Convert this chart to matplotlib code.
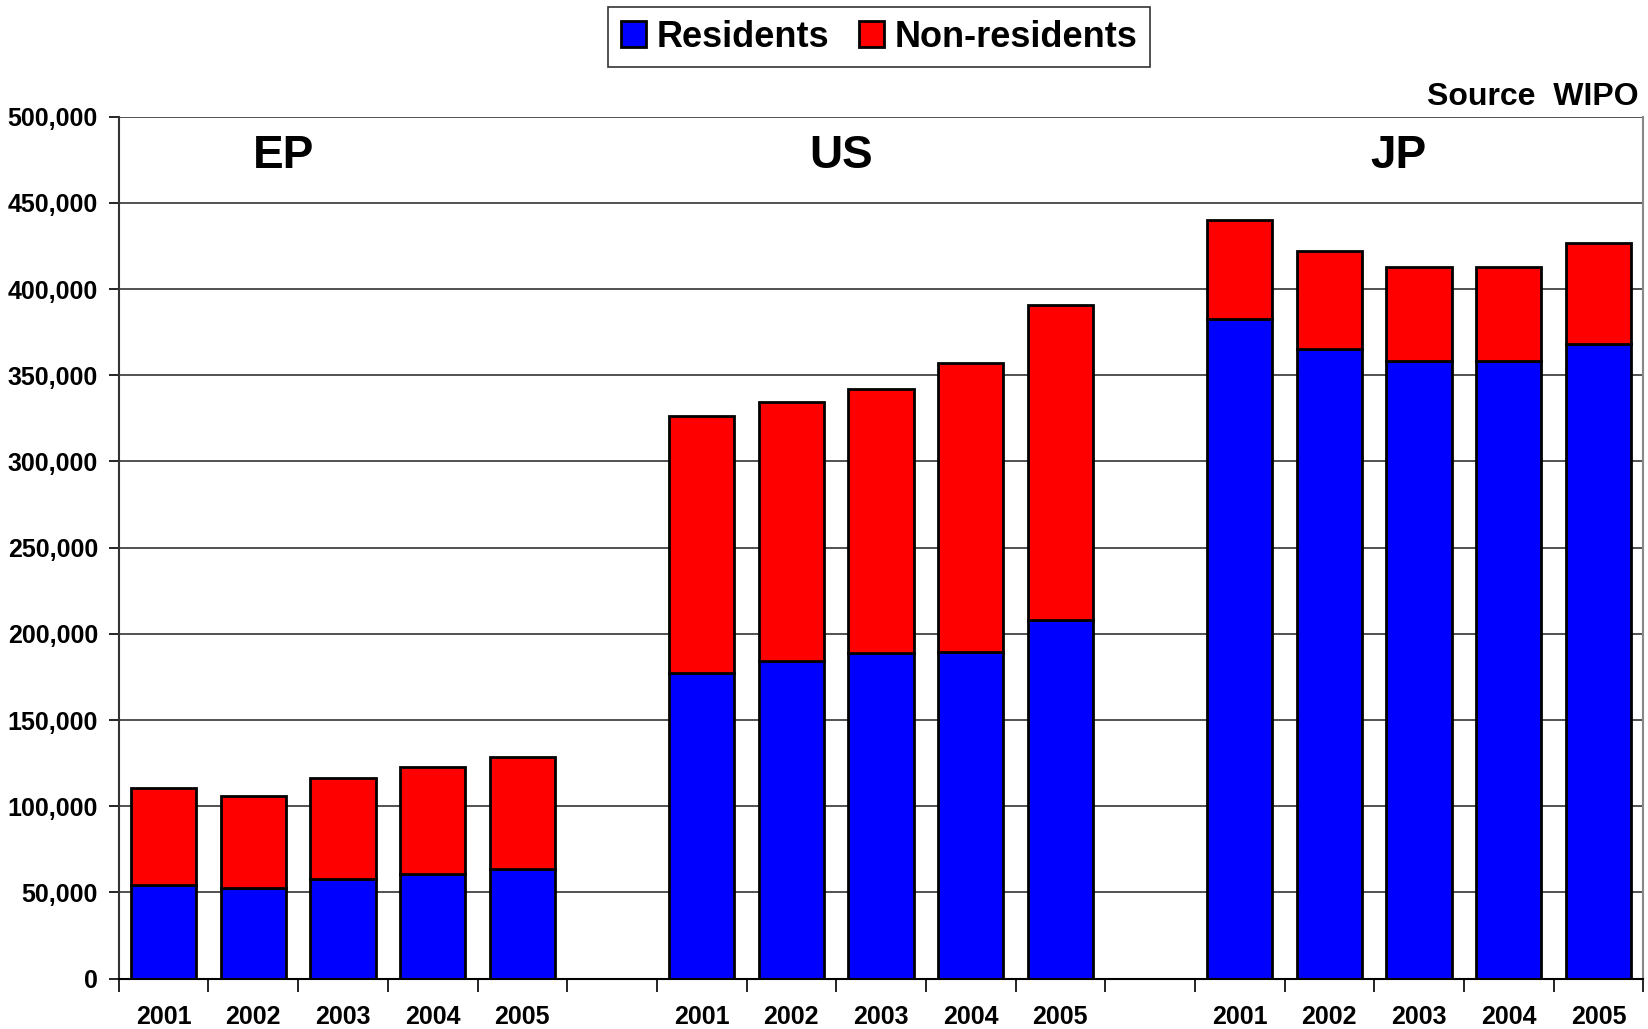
import numpy as np
import matplotlib.pyplot as plt

plt.rcParams['font.family'] = ['Liberation Sans', 'DejaVu Sans']
plt.rcParams['font.weight'] = 'bold'

# Data (Source WIPO)
offices = ["EP", "US", "JP"]
years = ["2001", "2002", "2003", "2004", "2005"]
residents = {
    "EP": [54000, 52500, 58000, 60500, 63500],
    "US": [177500, 184200, 188600, 189700, 207900],
    "JP": [382800, 365000, 358000, 358000, 367900],
}
totals = {
    "EP": [110400, 105800, 116600, 122800, 128800],
    "US": [326300, 334200, 342200, 356900, 390700],
    "JP": [440300, 421800, 413000, 413000, 427000],
}

# Build one row of 17 slots: 5 bars, gap, 5 bars, gap, 5 bars
pos, res, nonres, labels = [], [], [], []
slot = 0
for k, off in enumerate(offices):
    for j, yr in enumerate(years):
        pos.append(slot)
        res.append(residents[off][j])
        nonres.append(totals[off][j] - residents[off][j])
        labels.append(yr)
        slot += 1
    slot += 1
pos = np.array(pos)

fig = plt.figure(figsize=(16.48, 10.29), dpi=100)
ax = fig.add_axes([0.0721, 0.049, 0.925, 0.8376])

ax.set_axisbelow(True)
ax.yaxis.grid(True, color='#222222', linewidth=1.1)

w = 0.73
b1 = ax.bar(pos, res, width=w, color='#0000ff', edgecolor='black', linewidth=2, label='Residents')
b2 = ax.bar(pos, nonres, width=w, bottom=res, color='#ff0000', edgecolor='black', linewidth=2,
            label='Non-residents')

ax.set_xlim(-0.5, 16.5)
ax.set_ylim(0, 500000)
ax.set_yticks(np.arange(0, 500001, 50000))
ax.set_yticklabels([f"{v:,}" for v in range(0, 500001, 50000)], fontsize=18, fontweight='bold')

ax.set_xticks(pos)
ax.set_xticklabels(labels, fontsize=18, fontweight='bold')
ax.set_xticks(np.arange(-0.5, 17, 1), minor=True)
ax.tick_params(axis='x', which='major', length=0, pad=19)
ax.tick_params(axis='x', which='minor', length=9, width=1.2, direction='out')
ax.tick_params(axis='y', length=7, width=1.2, pad=8)

ax.spines['top'].set_visible(False)
ax.spines['right'].set_color('#888888')
ax.spines['right'].set_linewidth(1.5)
ax.spines['left'].set_color('#333333')
ax.spines['left'].set_linewidth(1.5)
ax.spines['bottom'].set_linewidth(1.5)

# office titles
for name, xpos in zip(offices, [1.34, 7.55, 13.77]):
    ax.text(xpos, 477000, name, fontsize=33, fontweight='bold', ha='center', va='center')

fig.text(0.9945, 0.906, "Source  WIPO", fontsize=23, fontweight='bold', ha='right', va='center')

leg = fig.legend(handles=[b1, b2], loc='center', bbox_to_anchor=(0.5335, 0.964), ncol=2,
                 frameon=True, fancybox=False, edgecolor='black',
                 handlelength=0.7, handleheight=0.7, handletextpad=0.3, columnspacing=0.8,
                 borderpad=0.35, prop={'weight': 'bold', 'size': 26})
leg.get_frame().set_linewidth(1.2)

fig.savefig("out.png", dpi=100)
